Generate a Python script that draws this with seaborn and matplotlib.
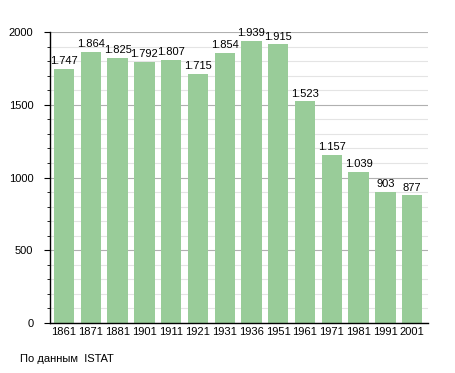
import matplotlib
matplotlib.use("Agg")
import matplotlib.pyplot as plt
import seaborn as sns
import pandas as pd
from matplotlib.ticker import MultipleLocator

years = ["1861", "1871", "1881", "1901", "1911", "1921", "1931",
         "1936", "1951", "1961", "1971", "1981", "1991", "2001"]
population = [1747, 1864, 1825, 1792, 1807, 1715, 1854,
              1939, 1915, 1523, 1157, 1039, 903, 877]
labels = ["1.747", "1.864", "1.825", "1.792", "1.807", "1.715", "1.854",
          "1.939", "1.915", "1.523", "1.157", "1.039", "903", "877"]

df = pd.DataFrame({"year": years, "pop": population})

sns.set_style("white")
plt.rcParams['font.family'] = ['Liberation Sans', 'DejaVu Sans']
plt.rcParams['text.color'] = 'black'
plt.rcParams['xtick.color'] = 'black'
plt.rcParams['ytick.color'] = 'black'

fig = plt.figure(figsize=(4.55, 3.73), dpi=100)
ax = fig.add_axes([0.11, 0.134, 0.83, 0.78])

ax.set_ylim(0, 2000)
ax.yaxis.set_major_locator(MultipleLocator(500))
ax.yaxis.set_minor_locator(MultipleLocator(100))
ax.grid(which="minor", axis="y", color="#e4e4e4", lw=0.8)
ax.grid(which="major", axis="y", color="#b0b0b0", lw=0.8)
ax.set_axisbelow(True)

sns.barplot(data=df, x="year", y="pop", color="#99cc99", saturation=1,
            width=0.76, linewidth=0, ax=ax)

for i, (v, t) in enumerate(zip(population, labels)):
    ax.text(i, v + 20, t, ha="center", va="bottom", fontsize=8)

ax.set_xlim(-0.52, len(years) - 0.42)
for s in ["top", "right"]:
    ax.spines[s].set_visible(False)
ax.spines["left"].set_color("black")
ax.spines["bottom"].set_color("black")
ax.spines["left"].set_linewidth(1)
ax.spines["bottom"].set_linewidth(1)
ax.tick_params(axis="y", which="major", length=4, left=True, labelsize=8, pad=8)
ax.tick_params(axis="y", which="minor", length=2, left=True)
ax.tick_params(axis="x", length=0, labelsize=8, pad=3)
ax.set_xlabel("")
ax.set_ylabel("")

fig.text(0.044, 0.03, "По данным  ISTAT", fontsize=8)

fig.savefig("out.png", dpi=100)
